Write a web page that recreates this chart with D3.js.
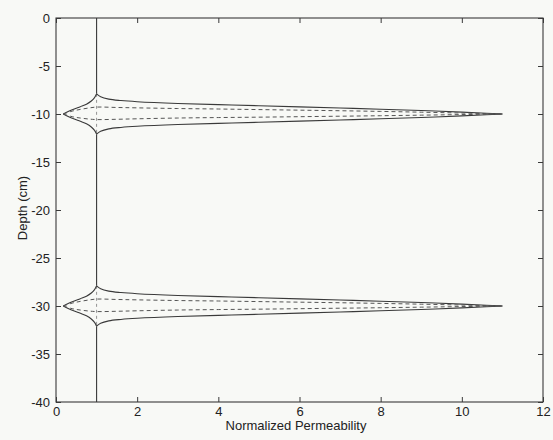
<!DOCTYPE html>
<html>
<head>
<meta charset="utf-8">
<script src="https://cdn.jsdelivr.net/npm/d3@7"></script>
<style>
  body { margin: 0; background: #f8f9f6; }
  svg text { font-family: "Liberation Sans", Arial, sans-serif; fill: #222; }
</style>
</head>
<body>
<svg id="chart"></svg>
<script>
// chart size
var width = 553,
    height = 440,
    margin = {left: 56, right: 10, top: 18, bottom: 38};

// axes
var xTicks = [0, 2, 4, 6, 8, 10, 12];
var yTicks = [0, -5, -10, -15, -20, -25, -30, -35, -40];

// background permeability and the two layers (depth of layer centre, cm)
var baseK = 1;
var layerDepths = [-10, -30];

// solid envelope, right branch: permeability and offset from layer centre (cm)
var solidRightK   = [1, 1.1, 1.3, 1.6, 2, 3, 4, 5, 6, 7, 8, 9, 10, 10.6, 11];
var solidRightOff = [2.1, 1.8, 1.55, 1.4, 1.28, 1.1, 0.98, 0.86, 0.74, 0.62, 0.5, 0.36, 0.2, 0.08, 0];
// solid envelope, left branch
var solidLeftK   = [0.18, 0.3, 0.45, 0.6, 0.75, 0.87, 0.95, 1];
var solidLeftOff = [0, 0.25, 0.52, 0.76, 1.02, 1.35, 1.7, 2.1];
// dashed inner curves
var dashK     = [0.18, 0.4, 0.6, 0.8, 1, 1.5, 2, 3, 4, 5, 6, 7, 8, 9, 10, 11];
var dashUpOff = [0, 0.3, 0.48, 0.62, 0.72, 0.68, 0.64, 0.57, 0.52, 0.46, 0.4, 0.34, 0.27, 0.19, 0.1, 0];
var dashLoOff = [0, -0.28, -0.42, -0.52, -0.58, -0.55, -0.5, -0.42, -0.37, -0.33, -0.28, -0.23, -0.18, -0.12, -0.06, 0];

var x = d3.scaleLinear().domain([0, 12]).range([margin.left, width - margin.right]);
var y = d3.scaleLinear().domain([-40, 0]).range([height - margin.bottom, margin.top]);

var svg = d3.select("#chart")
    .attr("width", width)
    .attr("height", height);

var line = d3.line()
    .x(function(d) { return x(d[0]); })
    .y(function(d) { return y(d[1]); })
    .curve(d3.curveCatmullRom);

var straight = d3.line()
    .x(function(d) { return x(d[0]); })
    .y(function(d) { return y(d[1]); });

function pts(ks, offs, centre, sign) {
    return ks.map(function(k, i) { return [k, centre + sign * offs[i]]; });
}

var plot = svg.append("g");

// background line k = 1, broken where the layers are
var segTop = 0;
layerDepths.forEach(function(c) {
    var upper = c + solidRightOff[0], lower = c - solidRightOff[0];
    plot.append("path")
        .attr("d", straight([[baseK, segTop], [baseK, upper]]))
        .attr("fill", "none").attr("stroke", "#3a3a3a").attr("stroke-width", 1.1);
    plot.append("path")
        .attr("d", straight([[baseK, upper], [baseK, lower]]))
        .attr("fill", "none").attr("stroke", "#888").attr("stroke-width", 0.9)
        .attr("stroke-dasharray", "3,3");
    segTop = lower;
});
plot.append("path")
    .attr("d", straight([[baseK, segTop], [baseK, -40]]))
    .attr("fill", "none").attr("stroke", "#3a3a3a").attr("stroke-width", 1.1);

layerDepths.forEach(function(c) {
    [1, -1].forEach(function(s) {
        plot.append("path")
            .attr("d", line(pts(solidRightK, solidRightOff, c, s)))
            .attr("fill", "none").attr("stroke", "#3a3a3a").attr("stroke-width", 1.1);
        plot.append("path")
            .attr("d", line(pts(solidLeftK, solidLeftOff, c, s)))
            .attr("fill", "none").attr("stroke", "#3a3a3a").attr("stroke-width", 1.1);
    });
    [dashUpOff, dashLoOff].forEach(function(offs) {
        plot.append("path")
            .attr("d", line(pts(dashK, offs, c, 1)))
            .attr("fill", "none").attr("stroke", "#555").attr("stroke-width", 1)
            .attr("stroke-dasharray", "4,3");
    });
});

// frame
svg.append("rect")
    .attr("x", x(0)).attr("y", y(0))
    .attr("width", x(12) - x(0)).attr("height", y(-40) - y(0))
    .attr("fill", "none").attr("stroke", "#3a3a3a").attr("stroke-width", 1.1);

function styleAxis(g) {
    g.select(".domain").remove();
    g.selectAll(".tick line").attr("stroke", "#3a3a3a");
    g.selectAll(".tick text").attr("font-size", "13px").attr("fill", "#222");
}

svg.append("g")
    .attr("transform", "translate(0," + y(-40) + ")")
    .call(d3.axisBottom(x).tickValues(xTicks).tickSize(-5).tickPadding(5).tickFormat(function(d) { return String(d); }))
    .call(styleAxis);
svg.append("g")
    .attr("transform", "translate(0," + y(0) + ")")
    .call(d3.axisTop(x).tickValues(xTicks).tickSize(-5).tickFormat(""))
    .call(styleAxis);
svg.append("g")
    .attr("transform", "translate(" + x(0) + ",0)")
    .call(d3.axisLeft(y).tickValues(yTicks).tickSize(-5).tickPadding(6).tickFormat(function(d) { return String(d); }))
    .call(styleAxis);
svg.append("g")
    .attr("transform", "translate(" + x(12) + ",0)")
    .call(d3.axisRight(y).tickValues(yTicks).tickSize(-5).tickFormat(""))
    .call(styleAxis);

// axis titles
svg.append("text")
    .attr("x", 296)
    .attr("y", 430)
    .attr("text-anchor", "middle")
    .attr("font-size", "13px")
    .text("Normalized Permeability");

svg.append("text")
    .attr("text-anchor", "middle")
    .attr("font-size", "13px")
    .attr("transform", "translate(27,208) rotate(-90)")
    .text("Depth (cm)");
</script>
</body>
</html>
